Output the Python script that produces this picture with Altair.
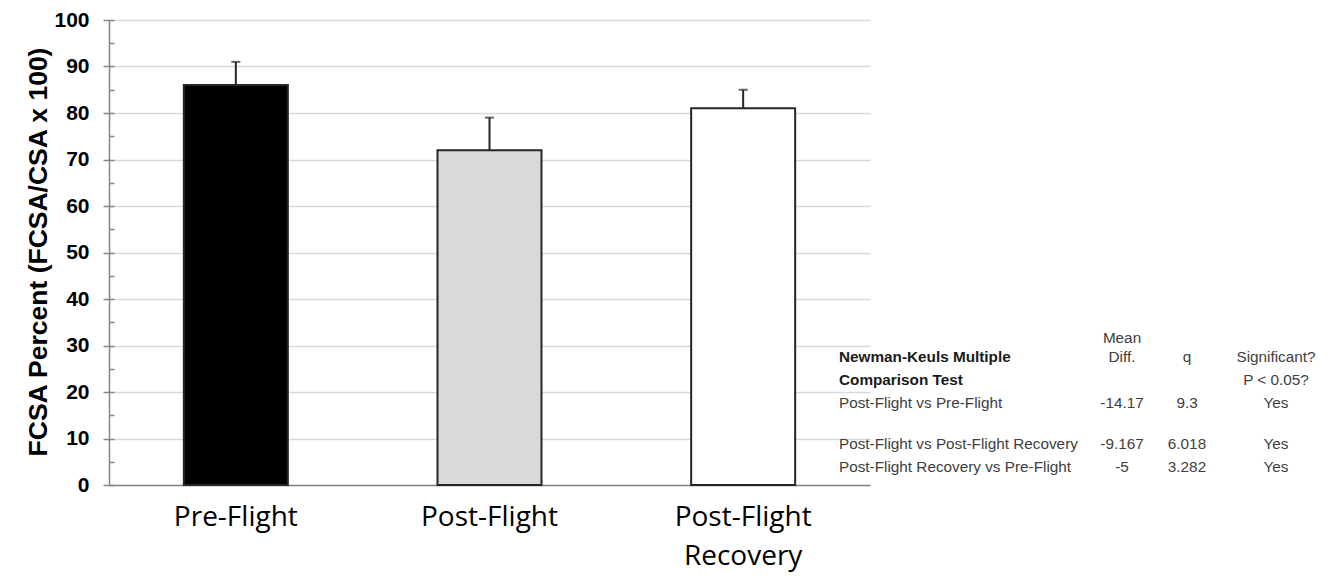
import altair as alt
import pandas as pd

# ---- data ----
categories = ["Pre-Flight", "Post-Flight", "Post-Flight Recovery"]
means = [86, 72, 81]
errors = [5, 7, 4]
fills = ["#000000", "#d9d9d9", "#ffffff"]

comparisons = ["Post-Flight vs Pre-Flight",
               "Post-Flight vs Post-Flight Recovery",
               "Post-Flight Recovery vs Pre-Flight"]
mean_diff = ["-14.17", "-9.167", "-5"]
q_vals = ["9.3", "6.018", "3.282"]
significant = ["Yes", "Yes", "Yes"]

header_bold = ["Newman-Keuls Multiple", "Comparison Test"]
header_cols = ["Mean", "Diff.", "q", "Significant?", "P < 0.05?"]

W, H = 761, 465

df = pd.DataFrame({"cat": categories, "mean": means, "err": errors})
df["top"] = df["mean"] + df["err"]

# table layout (pixel positions inside plot group)
col_label_x, col_md_x, col_q_x, col_sig_x = 730, 1013, 1078, 1167
row_y = [383, 424, 447]

left_rows = [{"t": c, "px": col_label_x, "py": y} for c, y in zip(comparisons, row_y)]
center_rows = []
for md, q, s, y in zip(mean_diff, q_vals, significant, row_y):
    center_rows += [{"t": md, "px": col_md_x, "py": y},
                    {"t": q, "px": col_q_x, "py": y},
                    {"t": s, "px": col_sig_x, "py": y}]
center_rows += [
    {"t": header_cols[0], "px": col_md_x, "py": 318},
    {"t": header_cols[1], "px": col_md_x, "py": 337},
    {"t": header_cols[2], "px": col_q_x, "py": 337},
    {"t": header_cols[3], "px": col_sig_x, "py": 337},
    {"t": header_cols[4], "px": col_sig_x, "py": 360},
]
bold_rows = [{"t": header_bold[0], "px": col_label_x, "py": 337},
             {"t": header_bold[1], "px": col_label_x, "py": 360}]

x_enc = alt.X("cat:N", sort=categories,
              scale=alt.Scale(paddingInner=0.59, paddingOuter=0.295),
              axis=alt.Axis(title=None, labelAngle=0, ticks=False,
                            labelFont="Open Sans", labelFontSize=28,
                            labelColor="#000000", labelPadding=18,
                            labelBaseline="top", labelLineHeight=39,
                            domainColor="#868686", domainWidth=1.5,
                            labelExpr="datum.value == 'Post-Flight Recovery' ? ['Post-Flight', 'Recovery'] : datum.value"))

yscale = alt.Scale(domain=[0, 100], nice=False)

bars = alt.Chart(df).mark_bar(stroke="#262626", strokeWidth=2).encode(
    x=x_enc,
    y=alt.Y("mean:Q", scale=yscale,
            axis=alt.Axis(title="FCSA Percent (FCSA/CSA x 100)",
                          values=list(range(0, 101, 10)),
                          labelFont="Liberation Sans", labelFontWeight="bold",
                          labelFontSize=21, labelColor="#000000",
                          labelPadding=14, tickSize=6, tickColor="#868686",
                          tickWidth=1.5,
                          domainColor="#868686", domainWidth=1.5,
                          grid=True, gridColor="#d9d9d9", gridWidth=1.5,
                          titleFont="Liberation Sans", titleFontWeight="bold",
                          titleFontSize=26.5, titleColor="#000000",
                          titleAngle=270, titleX=-71, titleY=H / 2 - 1,
                          titleAlign="center", titleBaseline="middle")),
    color=alt.Color("cat:N", sort=categories,
                    scale=alt.Scale(domain=categories, range=fills), legend=None),
)

stems = alt.Chart(df).mark_rule(color="#262626", strokeWidth=2).encode(
    x=alt.X("cat:N", sort=categories),
    y=alt.Y("mean:Q", scale=yscale,
            axis=alt.Axis(orient="right", offset=-W, title=None, labels=False,
                          domain=False, grid=False,
                          values=list(range(0, 101, 5)),
                          tickSize=5, tickColor="#868686", tickWidth=1.5)),
    y2="top:Q",
)

caps = alt.Chart(df).mark_tick(color="#262626", thickness=2, size=9).encode(
    x=alt.X("cat:N", sort=categories),
    y=alt.Y("top:Q", scale=yscale, axis=None),
)

def text_layer(rows, align, weight, color):
    return alt.Chart(pd.DataFrame(rows)).mark_text(
        align=align, baseline="middle", font="Liberation Sans",
        fontSize=15.3, fontWeight=weight, color=color
    ).encode(
        x=alt.X("px:Q", scale=None, axis=None),
        y=alt.Y("py:Q", scale=None, axis=None),
        text="t:N",
    )

tbl_left = text_layer(left_rows, "left", "normal", "#404040")
tbl_center = text_layer(center_rows, "center", "normal", "#404040")
tbl_bold = text_layer(bold_rows, "left", "bold", "#1a1a1a")

chart = alt.layer(bars, stems, caps, tbl_left, tbl_center, tbl_bold).resolve_axis(
    y="independent"
).resolve_scale(x="shared").properties(
    width=W, height=H,
    autosize=alt.AutoSizeParams(type="none"),
    padding={"left": 101, "top": 12, "right": 450, "bottom": 92},
).configure_view(stroke=None)

chart.save("out.html", embed_options={"renderer": "svg", "actions": False})
